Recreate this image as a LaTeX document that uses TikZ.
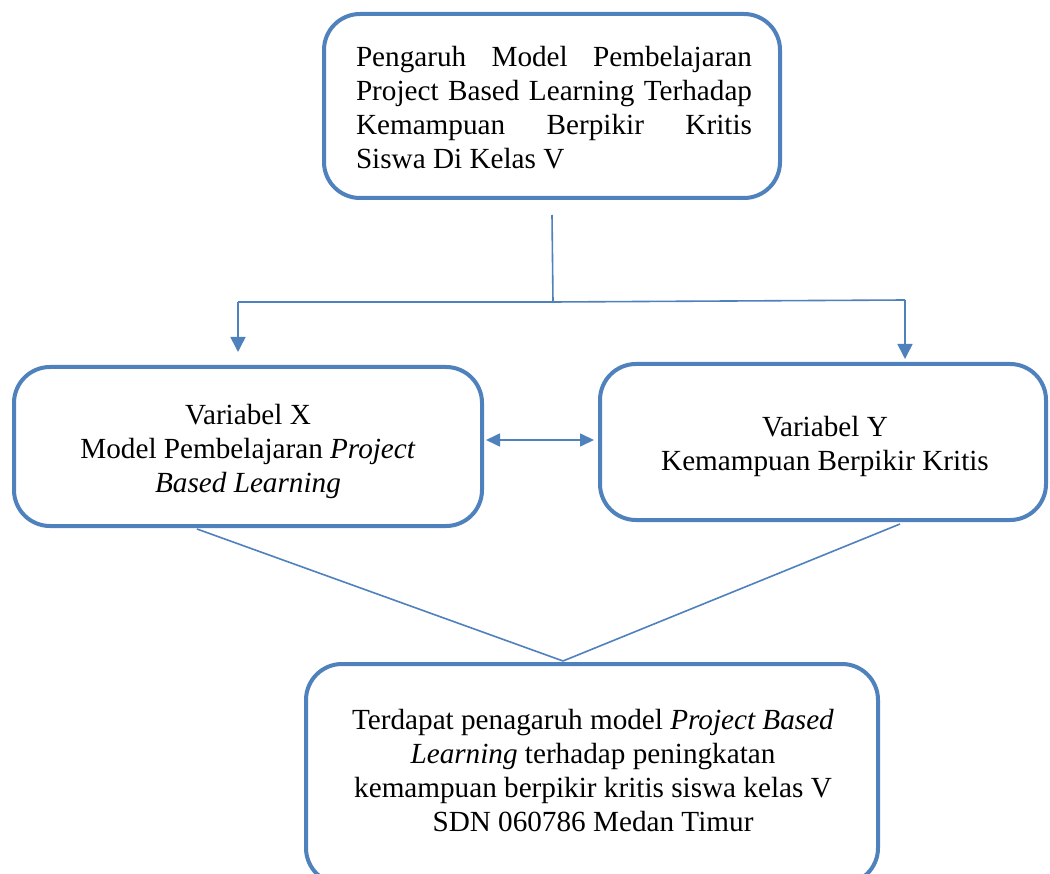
\documentclass[tikz,border=0pt]{standalone}
\usepackage{fontspec}
\setmainfont{Liberation Serif}
\usetikzlibrary{arrows.meta}
\definecolor{boxblue}{RGB}{79,129,189}
\tikzset{
  box/.style={draw=boxblue, line width=4pt, rounded corners=36pt, inner sep=0pt},
  txt/.style={font=\fontsize{29.2}{34}\selectfont, inner sep=0pt, align=center},
  conn/.style={draw=boxblue, line width=1.6pt},
  tipd/.style={-{Triangle[width=15pt,length=15pt]}},
  tipb/.style={{Triangle[width=13pt,length=14pt]}-{Triangle[width=13pt,length=14pt]}}
}
\begin{document}
\begin{tikzpicture}[x=1pt,y=-1pt]
\useasboundingbox (0,0) rectangle (1050,874);
\clip (0,0) rectangle (1050,874);
\fill[white] (0,0) rectangle (1050,874);
% boxes
\node[box, minimum width=456pt, minimum height=184pt] (top) at (552,106) {};
\node[box, minimum width=468pt, minimum height=159pt] (left) at (248,446.5) {};
\node[box, minimum width=446pt, minimum height=156pt] (right) at (823,442) {};
\node[box, minimum width=572pt, minimum height=220pt] (bottom) at (592,774) {};
% texts
\node[txt, align=left] (toptxt) at (554,108)
  {\makebox[396pt][s]{Pengaruh Model Pembelajaran}\\
   \makebox[396pt][s]{Project Based Learning Terhadap}\\
   \makebox[396pt][s]{Kemampuan Berpikir Kritis}\\
   Siswa Di Kelas V};
\node[txt] (lefttxt) at (248,451)
  {Variabel X\\ Model Pembelajaran \textit{Project}\\ \textit{Based Learning}};
\node[txt] (righttxt) at (825,446)
  {Variabel Y\\ Kemampuan Berpikir Kritis};
\node[txt] (bottomtxt) at (593,771)
  {Terdapat penagaruh model \textit{Project Based}\\ \textit{Learning} terhadap peningkatan\\ kemampuan berpikir kritis siswa kelas V\\ SDN 060786 Medan Timur};
% connectors
\coordinate (j2) at (553,302);
\coordinate (lA) at (238,302);
\coordinate (rA) at (905,300);
\coordinate (da) at (0,440);
\draw[conn] ([yshift=-15pt]top.south) -- (j2);
\draw[conn] (lA) -- (j2) -- (rA);
\draw[conn,tipd] (lA) -- ([yshift=13pt]left.north -| lA);
\draw[conn,tipd] (rA) -- ([yshift=3pt]right.north -| rA);
\draw[conn,tipb] ([xshift=2pt]left.east |- da) -- ([xshift=-4pt]right.west |- da);
\draw[conn] ([xshift=-51pt,yshift=-1pt]left.south) -- ([xshift=-29pt,yshift=1pt]bottom.north);
\draw[conn] ([xshift=77pt,yshift=-2pt]right.south) -- ([xshift=-29pt,yshift=1pt]bottom.north);
\end{tikzpicture}
\end{document}
